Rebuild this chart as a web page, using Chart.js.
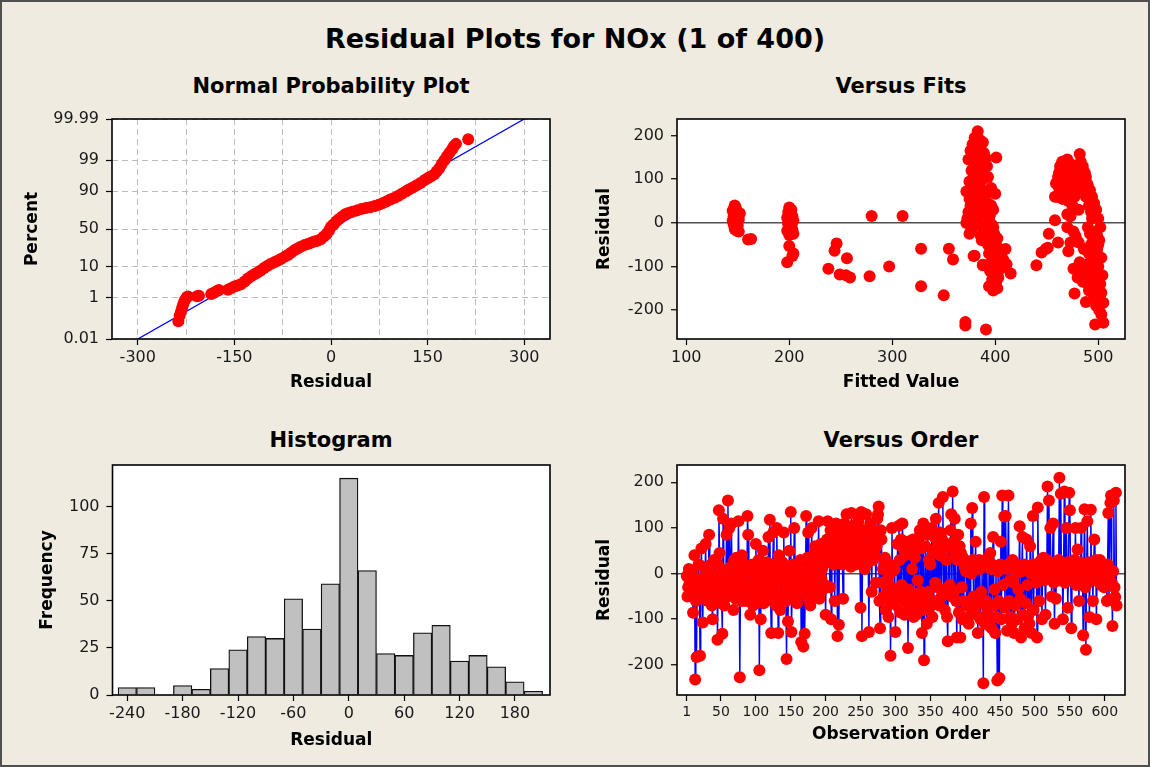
<!DOCTYPE html>
<html>
<head>
<meta charset="utf-8">
<script src="https://cdn.jsdelivr.net/npm/chart.js@4.4.1/dist/chart.umd.min.js"></script>
<style>
  body { margin: 0; background: #efebe1; }
  #page { position: relative; width: 1150px; height: 767px; background: #efebe1; overflow: hidden; font-family: "DejaVu Sans", sans-serif; }
  #frame { position: absolute; left: 0; top: 0; width: 1150px; height: 767px; box-sizing: border-box; border: 2px solid #505050; pointer-events: none; }
  .t { position: absolute; transform: translate(-50%, -50%); font-weight: bold; white-space: nowrap; color: #000; }
  canvas { position: absolute; }
</style>
</head>
<body>
<div id="page">
  <div class="t" style="left:575px; top:38px; font-size:27px;">Residual Plots for NOx (1 of 400)</div>
  <div class="t" style="left:331px; top:86px; font-size:21px;">Normal Probability Plot</div>
  <div class="t" style="left:901px; top:86px; font-size:21px;">Versus Fits</div>
  <div class="t" style="left:331px; top:440px; font-size:21px;">Histogram</div>
  <div class="t" style="left:901px; top:440px; font-size:21px;">Versus Order</div>
  <canvas id="normalChart" width="575" height="300" style="left:0px; top:100px;"></canvas>
  <canvas id="fitsChart" width="575" height="300" style="left:575px; top:100px;"></canvas>
  <canvas id="histChart" width="575" height="320" style="left:0px; top:440px;"></canvas>
  <canvas id="orderChart" width="575" height="320" style="left:575px; top:440px;"></canvas>
  <div id="frame"></div>
</div>
<script>
// normal probability plot (residual, percent)
const normResidual = [-237, -235, -233, -231, -229, -227, -224, -222, -208, -205, -186, -182, -177, -174, -160, -156, -150, -145, -140, -134,
    -129, -124, -119, -114, -109, -104, -99, -94, -88, -83, -78, -72, -67, -62, -57, -52, -47, -41, -36, -31,
    -26, -21, -16, -11, -7, -3, 0, 4, 8, 12, 17, 22, 27, 33, 40, 47, 54, 61, 68, 74,
    80, 86, 92, 98, 104, 110, 116, 121, 127, 133, 139, 145, 150, 155, 160, 164, 168, 172, 176, 180,
    184, 188, 191, 194, 213];
const normPercent = [0.09, 0.17, 0.26, 0.40, 0.59, 0.80, 1.05, 1.12, 1.15, 1.2, 1.4, 1.55, 1.8, 1.95, 2.0, 2.2, 2.6, 2.8, 3.1, 3.8,
    4.7, 5.5, 6.3, 7.1, 8.0, 9.3, 10.6, 11.8, 13.0, 14.2, 15.6, 17.3, 19, 21, 23.5, 25.5, 27.5, 29.5, 30.5, 32,
    33.5, 34.5, 36.5, 40, 43, 48, 53, 56, 60, 63, 66, 69, 70.5, 72, 73.5, 75, 76, 77, 78.2, 79.3,
    80.8, 82.3, 84, 85.3, 86.8, 88.4, 89.8, 90.9, 92, 93, 94, 95, 95.7, 96.2, 96.7, 97.4, 98.0, 98.6, 99.0, 99.3,
    99.5, 99.65, 99.75, 99.8, 99.88];
const normLineResidual = [-300, 300];
const normLinePercent = [0.01, 99.99];
const probTicks = [0.01, 1, 10, 50, 90, 99, 99.99];
const probTickLabels = ['0.01', '1', '10', '50', '90', '99', '99.99'];
const normXTicks = [-300, -225, -150, -75, 0, 75, 150, 225, 300];

// versus fits
const fittedValues = [
    147, 148, 146, 149, 147, 150, 146, 148, 151, 145, 147, 149, 146, 150, 148, 147, 149, 151, 152, 145, 148, 150, 160, 163,
    200, 202, 199, 201, 203, 198, 200, 204, 201, 199, 202, 200, 203, 198, 201, 204, 200, 202, 199, 200, 203, 198, 204,
    238, 246, 244, 256, 249, 255, 259, 278, 280, 297, 310, 328, 328, 350, 355, 359, 371, 371, 391,
    383, 380, 385, 378, 388, 381, 376, 386, 383, 379, 389, 374, 384, 391, 380, 386, 377, 392, 382, 388, 375, 385, 393, 380,
    372, 387, 378, 390, 383, 376, 389, 374, 381, 392, 373, 385, 378, 391, 372, 384, 377, 389, 375, 386, 380, 388,
    393, 396, 398, 394, 397, 392, 399, 395, 400, 393, 397, 402, 394, 399, 404, 396, 401, 406, 395, 400, 397, 403, 399, 402,
    398, 408, 405, 410, 411, 415, 401, 400, 379, 388, 396, 387,
    382, 387, 379, 384, 390, 375, 395, 398, 402, 404, 398, 401, 394, 396,
    460, 462, 464, 466, 468, 470, 463, 472, 474, 461, 469, 476, 478, 480, 465, 471, 477, 467, 473, 479, 475, 481, 463, 470,
    483, 482, 485, 487, 484, 489, 486, 490, 488, 492, 491, 493, 494, 490, 492, 495, 493, 496, 491, 494, 497, 499, 500, 498,
    495, 492, 497, 500, 502, 499, 503, 496, 488, 490, 486, 484, 482, 480, 477, 487, 489, 493, 498, 501, 497, 505, 505, 503,
    440, 445, 449, 451, 452, 458, 461, 470, 473, 476, 479, 471, 473, 476,
    458, 459, 462, 465, 467, 469, 471, 474, 477, 479, 481, 484, 486, 488, 490, 492, 494, 496, 498, 500,
    502, 501, 499, 503, 500, 504, 502, 485, 483, 491, 494, 489, 486, 481, 478];
const fitResiduals = [
    40, 35, 30, 25, 22, 20, 15, 12, 8, 5, 2, 0, -3, -6, -10, -14, -18, -20, 22, 28, -8, 10, -38, -37,
    35, 30, 25, 20, 15, 12, 8, 5, 2, -2, -5, -10, -15, -18, -22, -25, -28, 18, 0, -53, -76, -90, -70,
    -105, -47, -64, -81, -118, -120, -125, -122, 16, -100, 16, -59, -145, -166, -59, -84, -227, -235, -244,
    210, 195, 190, 180, 185, 170, 165, 168, 158, 150, 160, 145, 140, 148, 130, 125, 120, 130, 110, 100, 95, 90, 105, 80,
    72, 75, 60, 60, 50, 40, 40, 25, 30, 35, 10, 15, 5, 20, 0, -5, -15, -10, -25, -30, -75, -96,
    45, 40, 30, 10, -5, -20, -25, -35, -45, -50, -60, -55, -70, -80, -65, -90, -100, -75, -110, -120, -130, -125, -140, -150,
    -155, -85, -105, -60, -95, -116, 150, 67, -76, -97, 80, -40,
    175, 150, 110, 85, 50, 55, 20, -10, -35, -90, -115, -135, -145, -60,
    60, 80, 100, 120, 130, 145, 130, 110, 95, 105, 70, 85, 120, 100, 55, 50, 60, 90, 135, 75, 40, 30, 75, 20,
    140, 158, 130, 115, 100, 90, 80, 70, 60, 55, 40, 25, 10, -10, -25, -35, -50, -60, -70, -80, -40, -30, -50, -20,
    -100, -110, -120, -130, -140, -150, -160, -170, -181, -140, -120, -100, -90, -125, -162, -110, -130, -145, -190, -200, -233, -229, -183, -210,
    -97, -68, -60, -57, -25, 6, -45, -10, 15, -20, -40, -65, -45, -105,
    60, 90, 115, 140, 125, 105, 135, 120, 100, 130, 115, 125, 95, 105, 85, 75, 60, 45, 30, 10,
    -10, -40, -60, -80, -100, -120, -165, -135, -115, -155, -125, -95, -60, -45, -30];
const fitsXTicks = [100, 200, 300, 400, 500];
const residualTicks = [-200, -100, 0, 100, 200];

// histogram
const histCenters = [-240, -220, -200, -180, -160, -140, -120, -100, -80, -60, -40, -20, 0, 20, 40, 60, 80, 100, 120, 140, 160, 180, 200];
const histCounts = [4, 4, 0, 5, 3, 14, 24, 31, 30, 51, 35, 59, 115, 66, 22, 21, 33, 37, 18, 21, 15, 7, 2];
const histXTicks = [-240, -180, -120, -60, 0, 60, 120, 180];
const histYTicks = [0, 25, 50, 75, 100];

// versus order (observation 1..617)
const orderResiduals = [
    -5, -50, -30, 10, -20, -45, -10, -35, 5, -86, -25, 40, -232, -60, -183, -15, -40, 20, -30, -180,
    -10, 55, -40, -107, 15, -55, -20, 65, -35, 0, -60, 10, 85, -25, -45, 20, -70, -100, -15, 30,
    -30, -5, -50, 25, -145, -20, 139, 45, -40, 10, -65, -132, 120, -10, -70, -35, 5, 85, -50, 160,
    -20, 100, -45, 15, 110, -30, -5, -80, 30, 20, -55, 35, -15, -40, 115, 0, -227, -25, -60, 40,
    -10, -45, 20, -30, -60, 5, -20, 126, 85, -35, -50, -90, 15, -25, 20, -70, 0, -40, -15, 65,
    -30, 10, -55, 30, -212, -20, -100, -5, -45, 50, -65, 15, -35, 0, -60, 25, -50, 80, -20, 118,
    -40, -130, 20, -10, 90, -55, 10, -30, -70, 100, -15, -130, 40, -50, -80, -5, 15, 25, -45, 90,
    -20, 5, -60, -187, 10, -105, -35, 50, -10, 135, -128, -40, 20, -25, 100, -55, 0, -30, -65, 20,
    -45, 15, -20, 30, -150, -5, -40, -160, 10, -132, -25, 126, -50, 35, 90, -15, -60, -70, 5, 100,
    -30, 20, -10, 45, 60, -40, 10, -20, 30, 115, -55, 5, 65, -10, 10, -35, 20, 45, -25, -90,
    30, 75, 115, 50, 60, -30, 95, -100, 40, 70, 20, 85, -60, 50, 110, 65, -137, 25, -112, 100,
    45, 60, 95, 20, -55, 80, 110, 45, 70, 130, 30, 55, 100, 85, 70, 15, 133, 60, 105, 40,
    90, 65, 20, 50, 100, 30, 115, 75, 55, -75, 135, -137, 40, 95, 60, 10, 85, 130, 45, 50,
    25, -128, 45, 110, 100, -40, 70, 30, 90, 80, 40, -20, 60, 120, 130, 147, -60, -120, 95, 75,
    -20, 10, -50, 30, 35, -80, 15, -40, -10, -95, -60, 20, -180, -30, 100, 5, -45, -65, 10, -128,
    -60, -70, 65, -40, 105, 30, -85, 75, -25, 110, 55, -60, -90, 40, -45, -85, 70, -163, -35, 45,
    -75, 50, -50, 10, 75, -95, -70, 35, -45, -90, 65, -15, -60, 80, 95, -40, 55, -130, -80, 110,
    -190, -65, 60, -55, -110, 85, -40, 30, -75, 20, -60, 100, -95, 45, -60, 80, -20, 120, 55, -30,
    65, 155, -70, 40, 90, -50, 75, 168, -35, 50, -80, -45, 30, -95, -148, 60, 60, -25, 95, 130,
    -50, 180, 70, -40, 120, 40, -60, -140, 30, 85, -85, 60, -140, 45, -30, -100, 35, -60, 15, 20,
    5, -70, 25, -95, -110, 15, -60, 110, 0, 144, 30, -50, -75, 10, 70, -90, 25, -130, -55, 30,
    10, -100, -40, 20, -65, -240, 168, -110, 30, -60, 15, -80, -90, 25, -115, 45, 10, -120, 20, 80,
    -70, -35, -130, 15, -95, -234, 5, -60, -229, 20, 70, -100, 171, -25, 15, 125, -75, 126, 10, -125,
    20, 171, -60, -15, -95, 25, -110, 30, -20, -130, 15, -70, 0, 20, -100, -35, 10, 104, -55, -140,
    5, 80, -90, 20, -120, 15, -65, 75, -25, -95, 10, -110, 60, 0, -130, 20, 126, -80, 10, 20,
    5, -20, -140, 145, 15, -60, 25, 0, 30, -100, 10, 35, -15, 20, -90, 5, 30, 191, -10, 160,
    20, 100, 0, -50, 15, 110, -20, -110, 25, -55, 10, 20, -15, 30, 210, 5, 175, -10, 20, -100,
    15, 180, -20, 10, 100, 25, -75, 0, 177, 139, 20, -120, 15, -15, 10, 30, 5, 100, -25, 20,
    53, 10, -60, 25, -10, 100, 20, 0, -135, 15, 141, -30, -167, 10, 115, -20, 25, -95, 5, 140,
    -10, 20, -60, 15, 75, 0, 30, -100, -15, 20, 10, -20, 30, 5, -25, -10, 20, 0, -30, 10,
    15, -5, -60, 20, 133, -57, 10, 155, 171, -20, -115, 5, 160, -30, -51, 177, -70];
const orderXTicks = [1, 50, 100, 150, 200, 250, 300, 350, 400, 450, 500, 550, 600];

// inverse normal cdf, for the probability axis
function probit(p) {
    const a = [-39.69683028665376, 220.9460984245205, -275.9285104469687, 138.3577518672690, -30.66479806614716, 2.506628277459239];
    const b = [-54.47609879822406, 161.5858368580409, -155.6989798598866, 66.80131188771972, -13.28068155288572];
    const c = [-0.007784894002430293, -0.3223964580411365, -2.400758277161838, -2.549671348071680, 4.374664141464968, 2.938163982698783];
    const d = [0.007784695709041462, 0.3224671290700398, 2.445134137142996, 3.754408661907416];
    const pl = 0.02425;
    if (p < pl || p > 1 - pl) {
        const q = Math.sqrt(-2 * Math.log(p < pl ? p : 1 - p));
        const z = (((((c[0] * q + c[1]) * q + c[2]) * q + c[3]) * q + c[4]) * q + c[5]) / ((((d[0] * q + d[1]) * q + d[2]) * q + d[3]) * q + 1);
        return p < pl ? z : -z;
    }
    const q = p - 0.5, r = q * q;
    return (((((a[0] * r + a[1]) * r + a[2]) * r + a[3]) * r + a[4]) * r + a[5]) * q / (((((b[0] * r + b[1]) * r + b[2]) * r + b[3]) * r + b[4]) * r + 1);
}

Chart.defaults.font.family = 'DejaVu Sans';
Chart.defaults.animation = false;

// white plot area with a black frame
Chart.register({
    id: 'plotFrame',
    beforeDraw(chart) {
        const a = chart.chartArea, ctx = chart.ctx;
        ctx.save();
        ctx.fillStyle = '#ffffff';
        ctx.fillRect(a.left, a.top, a.right - a.left, a.bottom - a.top);
        ctx.restore();
    },
    afterDraw(chart) {
        const a = chart.chartArea, ctx = chart.ctx;
        ctx.save();
        ctx.strokeStyle = '#000';
        ctx.lineWidth = 1.6;
        ctx.strokeRect(a.left, a.top, a.right - a.left, a.bottom - a.top);
        ctx.restore();
    }
});

function axis(pos, min, max, tickVals, label, size, titlePad, fontSize) {
    const horiz = pos === 'bottom';
    return {
        type: 'linear', position: pos, min: min, max: max, offset: false,
        afterBuildTicks: s => { s.ticks = tickVals.map(v => ({ value: v })); },
        afterFit: s => { if (horiz) s.height = size; else s.width = size; },
        grid: { drawOnChartArea: false, tickLength: 6, tickColor: '#000', tickWidth: 1.2, tickBorderDash: [], offset: false },
        border: { display: false },
        ticks: { font: { size: fontSize || 16 }, color: '#1a1a1a', padding: horiz ? 3 : 7, maxRotation: 0, minRotation: 0, autoSkip: false },
        title: {
            display: true, text: label, color: '#000', font: { size: 17, weight: 'bold' },
            padding: horiz ? { top: 0, bottom: titlePad } : { top: titlePad, bottom: 0 }
        }
    };
}

function zeroLine(ax) {
    ax.grid.drawOnChartArea = true;
    ax.grid.color = c => (c.tick && c.tick.value === 0) ? '#505050' : 'rgba(0,0,0,0)';
    ax.grid.lineWidth = 1.5;
    return ax;
}

const baseOptions = pad => ({
    responsive: false,
    maintainAspectRatio: false,
    layout: { autoPadding: false, padding: pad },
    plugins: { legend: { display: false }, tooltip: { enabled: false } }
});

const dotRadius = 6;

// normal probability plot
const nx = axis('bottom', -340, 340, normXTicks, 'Residual', 61, 7);
nx.grid.drawOnChartArea = true;
nx.grid.color = '#bcbcbc';
nx.grid.borderDash = [6, 4];
nx.border.dash = [6, 4];
nx.grid.tickColor = c => (c.tick && c.tick.value % 150 === 0) ? '#000' : 'rgba(0,0,0,0)';
nx.ticks.callback = v => (v % 150 === 0 ? v : '');
const ny = axis('left', probit(0.0001), probit(0.9999), probTicks.map(p => probit(p / 100)), 'Percent', 112, 22);
ny.grid.drawOnChartArea = true;
ny.grid.color = '#bcbcbc';
ny.grid.borderDash = [6, 4];
ny.border.dash = [6, 4];
ny.ticks.callback = (v, i) => probTickLabels[i];

new Chart(document.getElementById('normalChart'), {
    type: 'scatter',
    data: {
        datasets: [{
            data: normResidual.map((r, i) => ({ x: r, y: probit(normPercent[i] / 100) })),
            backgroundColor: '#ff0000', borderColor: '#ff0000', pointRadius: dotRadius, borderWidth: 0
        }, {
            type: 'line',
            data: normLineResidual.map((r, i) => ({ x: r, y: probit(normLinePercent[i] / 100) })),
            borderColor: '#0000ff', borderWidth: 1.3, pointRadius: 0, fill: false
        }]
    },
    options: Object.assign(baseOptions({ left: 0, right: 25, top: 19, bottom: 0 }), { scales: { x: nx, y: ny } })
});

// versus fits
new Chart(document.getElementById('fitsChart'), {
    type: 'scatter',
    data: {
        datasets: [{
            data: fittedValues.map((f, i) => ({ x: f, y: fitResiduals[i] })),
            backgroundColor: '#ff0000', borderColor: '#ff0000', pointRadius: dotRadius, borderWidth: 0
        }]
    },
    options: Object.assign(baseOptions({ left: 0, right: 25, top: 19, bottom: 0 }), {
        scales: {
            x: axis('bottom', 91, 526, fitsXTicks, 'Fitted Value', 61, 7),
            y: zeroLine(axis('left', -266, 238, residualTicks, 'Residual', 102, 19))
        }
    })
});

// histogram
const hx = axis('bottom', -256, 218, histXTicks, 'Residual', 65, 9);
new Chart(document.getElementById('histChart'), {
    type: 'bar',
    data: {
        datasets: [{
            data: histCenters.map((c, i) => ({ x: c, y: histCounts[i] })),
            backgroundColor: '#c0c0c0', borderColor: '#111', borderWidth: 1.3,
            barPercentage: 1, categoryPercentage: 1
        }]
    },
    options: Object.assign(baseOptions({ left: 0, right: 25, top: 25, bottom: 0 }), {
        scales: {
            x: hx,
            y: axis('left', 0, 122, histYTicks, 'Frequency', 112.5, 37)
        }
    })
});

// versus order
new Chart(document.getElementById('orderChart'), {
    type: 'line',
    data: {
        datasets: [{
            data: orderResiduals.map((r, i) => ({ x: i + 1, y: r })),
            borderColor: '#0000ff', borderWidth: 1.4,
            pointBackgroundColor: '#ff0000', pointBorderColor: '#ff0000', pointRadius: dotRadius, pointBorderWidth: 0,
            fill: false, tension: 0
        }]
    },
    options: Object.assign(baseOptions({ left: 0, right: 25, top: 25, bottom: 0 }), {
        scales: {
            x: axis('bottom', -13, 629, orderXTicks, 'Observation Order', 65, 15, 14),
            y: zeroLine(axis('left', -266, 238, residualTicks, 'Residual', 102, 19))
        }
    })
});
</script>
</body>
</html>
